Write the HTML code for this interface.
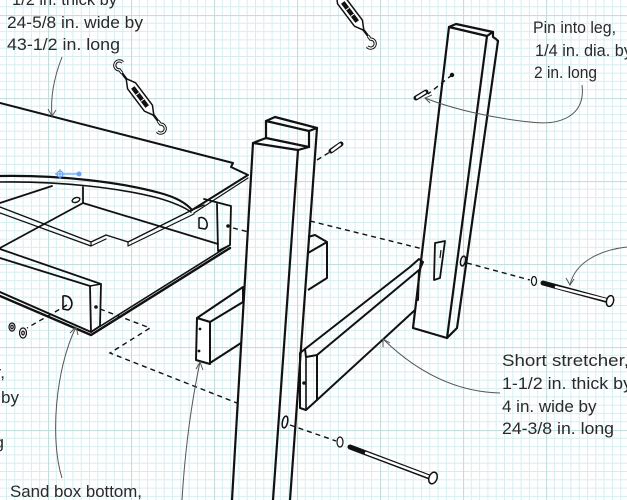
<!DOCTYPE html>
<html><head><meta charset="utf-8"><style>
html,body{margin:0;padding:0;background:#fff;}
svg{display:block;}
text{font-family:"Liberation Sans",sans-serif;font-size:17px;fill:#2a2a2a;}
</style></head><body>
<svg width="627" height="500" viewBox="0 0 627 500" xmlns="http://www.w3.org/2000/svg">
<defs>
<pattern id="g" x="48" y="15" width="83" height="83" patternUnits="userSpaceOnUse">
<g stroke="#d6eef1" stroke-width="1">
<line x1="8.3" y1="0" x2="8.3" y2="83"/><line x1="16.6" y1="0" x2="16.6" y2="83"/><line x1="24.9" y1="0" x2="24.9" y2="83"/><line x1="33.2" y1="0" x2="33.2" y2="83"/><line x1="41.5" y1="0" x2="41.5" y2="83"/><line x1="49.8" y1="0" x2="49.8" y2="83"/><line x1="58.1" y1="0" x2="58.1" y2="83"/><line x1="66.4" y1="0" x2="66.4" y2="83"/><line x1="74.7" y1="0" x2="74.7" y2="83"/>
<line y1="8.3" x1="0" y2="8.3" x2="83"/><line y1="16.6" x1="0" y2="16.6" x2="83"/><line y1="24.9" x1="0" y2="24.9" x2="83"/><line y1="33.2" x1="0" y2="33.2" x2="83"/><line y1="41.5" x1="0" y2="41.5" x2="83"/><line y1="49.8" x1="0" y2="49.8" x2="83"/><line y1="58.1" x1="0" y2="58.1" x2="83"/><line y1="66.4" x1="0" y2="66.4" x2="83"/><line y1="74.7" x1="0" y2="74.7" x2="83"/>
</g>
<g stroke="#c4dede" stroke-width="1.2"><line x1="0.5" y1="0" x2="0.5" y2="83"/><line x1="0" y1="0.5" x2="83" y2="0.5"/></g>
</pattern>
<g id="tb">
<line x1="-30" y1="0" x2="30" y2="0" stroke="#111" stroke-width="2.4"/>
<path d="M-23,0 L-14,-5 L14,-5 L23,0 L14,5 L-14,5 Z" fill="#fff" stroke="#111" stroke-width="1.5"/>
<rect x="-12" y="-2.2" width="24" height="4.4" fill="#111"/>
<line x1="-4" y1="-2" x2="-4" y2="2" stroke="#fff" stroke-width="1"/>
<line x1="4" y1="-2" x2="4" y2="2" stroke="#fff" stroke-width="1"/>
<path d="M-30,0 L-34,0 A4.5,4.5 0 1 1 -38,-7" fill="none" stroke="#111" stroke-width="3.2"/>
<path d="M-30,0 L-34,0 A4.5,4.5 0 1 1 -38,-7" fill="none" stroke="#fff" stroke-width="1.2"/>
<path d="M30,0 L34,0 A4.5,4.5 0 1 1 38,7" fill="none" stroke="#111" stroke-width="3.2"/>
<path d="M30,0 L34,0 A4.5,4.5 0 1 1 38,7" fill="none" stroke="#fff" stroke-width="1.2"/>
</g>
</defs>
<rect width="627" height="500" fill="#fff"/>
<rect width="627" height="500" fill="url(#g)"/>

<!-- turnbuckles -->
<use href="#tb" transform="translate(140,97) rotate(53)"/>
<use href="#tb" transform="translate(350,12) rotate(53)"/>

<g fill="none" stroke="#111" stroke-width="2" stroke-linejoin="round" stroke-linecap="round">
<!-- plywood top panel -->
<path d="M0,103 L233,163 L231,167 L248,175 L192,210"/>
<path d="M248,178 L194,213" stroke-width="1.2"/>
<path d="M0,176 C60,175 120,182 160,193 C175,197 186,203 192,210" stroke-width="2.2"/>
<path d="M0,182 C60,181 120,188 158,198 C172,202 184,207 191,212" stroke-width="1.6"/>

<!-- box -->
<path d="M0,203 L52,186" stroke-width="1.8"/>
<path d="M83,187 L83,203 L0,248" stroke-width="1.8"/>
<path d="M83,203 L218,244" stroke-width="1.8"/>
<ellipse cx="76" cy="200" rx="4" ry="2.3" transform="rotate(-20 76 200)" stroke-width="1.4"/>
<!-- floor -->
<path d="M0,207 L91,242 L106,235 L128,242 L192,210" stroke-width="1.4"/>
<path d="M0,213 L91,246 L106,239 M91,242 L91,246 M128,242 L128,246 L194,214" stroke-width="1.2"/>
<!-- front rail -->
<path d="M0,249 L101,284 L100,326 L91,332 L90,286 L0,258" stroke-width="1.8"/>
<path d="M90,286 L101,284" stroke-width="1.6"/>
<path d="M0,292 L91,332" stroke-width="2"/>
<path d="M0,296 L91,335 L230,248" stroke-width="2.4"/>
<path d="M91,332 L230,245" stroke-width="1.6"/>
<path d="M63,296 C72,294 75,307 68,310 L63,309 Z" stroke-width="1.6"/>
<!-- right rail -->
<path d="M204,199 L231,206 L230,245 L218,251 L217,204" stroke-width="1.8"/>
<path d="M192,210 L204,205" stroke-width="1.4"/>
<path d="M199,218 C206,215 210,226 205,229 L199,228 Z" stroke-width="1.5"/>
</g>
<circle cx="96" cy="307" r="1.8" fill="#111"/>
<circle cx="228" cy="226" r="1.8" fill="#111"/>

<!-- washers -->
<g fill="#fff" stroke="#111" stroke-width="1.2">
<ellipse cx="12" cy="327" rx="3" ry="4"/>
<ellipse cx="12" cy="327" rx="1.2" ry="1.8"/>
<ellipse cx="23" cy="333" rx="3.5" ry="5"/>
<ellipse cx="23" cy="333" rx="1.3" ry="2"/>
<ellipse cx="340" cy="442" rx="3" ry="5"/>
<ellipse cx="534" cy="281" rx="2.5" ry="4.5"/>
</g>

<!-- dashed lines -->
<g fill="none" stroke="#111" stroke-width="1.4" stroke-dasharray="5 4">
<path d="M67,305 L27,328"/>
<path d="M100,309 L150,328 L110,353 L237,403"/>
<path d="M233,228 L249,232"/>
<path d="M310,221 L423,249"/>
<path d="M290,425 L336,441"/>
<path d="M467,263 L530,280"/>
<path d="M452,75 L428,94"/>
<path d="M317,160 L330,152"/>
</g>

<!-- leg 1 -->
<g fill="none" stroke="#111" stroke-width="2.2" stroke-linejoin="round" stroke-linecap="round">
<path d="M253,143 L232,500"/>
<path d="M298,150 L273,500"/>
<path d="M317,128 L290,500"/>
<path d="M253,143 L266,138 L309,147 L298,150 Z"/>
<path d="M266,138 L266,121 L309,131 L309,147"/>
<path d="M266,121 L275,117 L317,128 L309,131"/>
</g>
<ellipse cx="285" cy="422" rx="2.6" ry="6" transform="rotate(12 285 422)" fill="none" stroke="#111" stroke-width="1.5"/>

<!-- long stretcher -->
<g fill="#fff" stroke="#111" stroke-width="2" stroke-linejoin="round">
<path d="M197,318 L243,287 L243,302 L210,322 Z" fill="none"/>
<path d="M210,363 L241,343" fill="none"/>
<path d="M197,318 L210,322 L210,364 L196,360 Z"/>
<path d="M308,237 L315,235 L327,242 L308,253" fill="none"/>
<path d="M327,242 L327,278 L308,290" fill="none"/>
</g>
<circle cx="200" cy="329" r="1.4" fill="#111"/>
<circle cx="199" cy="351" r="1.4" fill="#111"/>

<!-- leg 2 -->
<g fill="none" stroke="#111" stroke-width="2.2" stroke-linejoin="round" stroke-linecap="round">
<path d="M449,27 L456,24 L493,32 L487,36 Z"/>
<path d="M493,32 L493,37 L496,39 L498,41"/>
<path d="M449,27 L413,328 L447,338 L457,328 L498,41"/>
<path d="M487,36 L447,338"/>
<path d="M435,243 L445,241 L440,278 L434,280 Z" stroke-width="1.8"/>
</g>
<line x1="441" y1="250" x2="440" y2="258" stroke="#111" stroke-width="1.2"/>
<ellipse cx="463" cy="261" rx="2.4" ry="5" transform="rotate(12 463 261)" fill="none" stroke="#111" stroke-width="1.5"/>
<circle cx="452" cy="75" r="2.2" fill="#111"/>

<!-- short stretcher -->
<g fill="none" stroke="#111" stroke-width="2" stroke-linejoin="round" stroke-linecap="round">
<path d="M305,349 L410,267 L419,259 L423,262 L420,269"/>
<path d="M317,355 L419,270 L418,300"/>
<path d="M317,400 L415,310"/>
<path d="M305,349 L300,353 L300,408 L306,410 L317,400 L317,355 L306,357 L305,349"/>
<path d="M306,357 L306,410" stroke-width="1.6"/>
</g>
<circle cx="304" cy="383" r="1.8" fill="#111"/>

<!-- bolts -->
<g stroke-linecap="round">
<line x1="350" y1="447" x2="432" y2="478" stroke="#111" stroke-width="5"/>
<line x1="366" y1="453" x2="430" y2="477" stroke="#fff" stroke-width="2.4"/>
<ellipse cx="433" cy="478" rx="4" ry="6" transform="rotate(20 433 478)" fill="#fff" stroke="#111" stroke-width="1.5"/>
<line x1="543" y1="283" x2="609" y2="301" stroke="#111" stroke-width="5"/>
<line x1="556" y1="287" x2="607" y2="300" stroke="#fff" stroke-width="2.4"/>
<ellipse cx="610" cy="301" rx="3.5" ry="5.5" transform="rotate(15 610 301)" fill="#fff" stroke="#111" stroke-width="1.5"/>
<!-- pins -->
<line x1="416" y1="98" x2="426" y2="92" stroke="#111" stroke-width="5"/>
<line x1="417" y1="97.5" x2="425" y2="92.5" stroke="#fff" stroke-width="2.4"/>
<line x1="331" y1="151" x2="341" y2="144" stroke="#111" stroke-width="5"/>
<line x1="332" y1="150.5" x2="340" y2="144.5" stroke="#fff" stroke-width="2.4"/>
</g>

<!-- leaders -->
<g fill="none" stroke="#555" stroke-width="1">
<path d="M62,57 C55,75 50,95 52,116"/>
<path d="M48,109 L52,116 L56,110"/>
<path d="M582,85 C586,116 560,126 530,122 C490,118 450,108 425,98"/>
<path d="M432,95 L425,98 L430,103"/>
<path d="M627,247 C600,250 575,262 570,285"/>
<path d="M566,278 L570,285 L574,279"/>
<path d="M500,393 C460,392 420,375 383,339"/>
<path d="M383,347 L383,339 L390,343"/>
<path d="M62,478 C50,440 55,370 76,327"/>
<path d="M70,333 L76,327 L78,335"/>
<path d="M182,500 C185,450 192,400 200,362"/>
<path d="M196,369 L200,362 L203,370"/>
</g>

<!-- blue anchor -->
<g stroke="#6aa3f5" stroke-width="1.2" fill="none">
<circle cx="60" cy="174" r="3"/>
<line x1="55" y1="174" x2="79" y2="174"/>
<line x1="60" y1="169" x2="60" y2="179"/>
</g>
<circle cx="79" cy="174" r="2.5" fill="#6aa3f5"/>

<!-- text -->
<text x="12" y="5" textLength="105" lengthAdjust="spacingAndGlyphs">1/2 in. thick by</text>
<text x="7" y="28" textLength="136" lengthAdjust="spacingAndGlyphs">24-5/8 in. wide by</text>
<text x="7" y="50" textLength="113" lengthAdjust="spacingAndGlyphs">43-1/2 in. long</text>
<text x="533" y="33" textLength="83" lengthAdjust="spacingAndGlyphs">Pin into leg,</text>
<text x="535" y="56" textLength="97" lengthAdjust="spacingAndGlyphs">1/4 in. dia. by</text>
<text x="534" y="78" textLength="63" lengthAdjust="spacingAndGlyphs">2 in. long</text>
<text x="502" y="366" textLength="127" lengthAdjust="spacingAndGlyphs">Short stretcher,</text>
<text x="502" y="389" textLength="130" lengthAdjust="spacingAndGlyphs">1-1/2 in. thick by</text>
<text x="502" y="412" style="font-size:17px">4 in. wide by</text>
<text x="502" y="434" textLength="112" lengthAdjust="spacingAndGlyphs">24-3/8 in. long</text>
<text x="10" y="497" textLength="132" lengthAdjust="spacingAndGlyphs">Sand box bottom,</text>
<text x="5" y="378" text-anchor="end">Long stretcher,</text>
<text x="19" y="403" text-anchor="end">1-1/2 in. thick by</text>
<text x="4" y="448" text-anchor="end">in. long</text>
</svg>
</body></html>
